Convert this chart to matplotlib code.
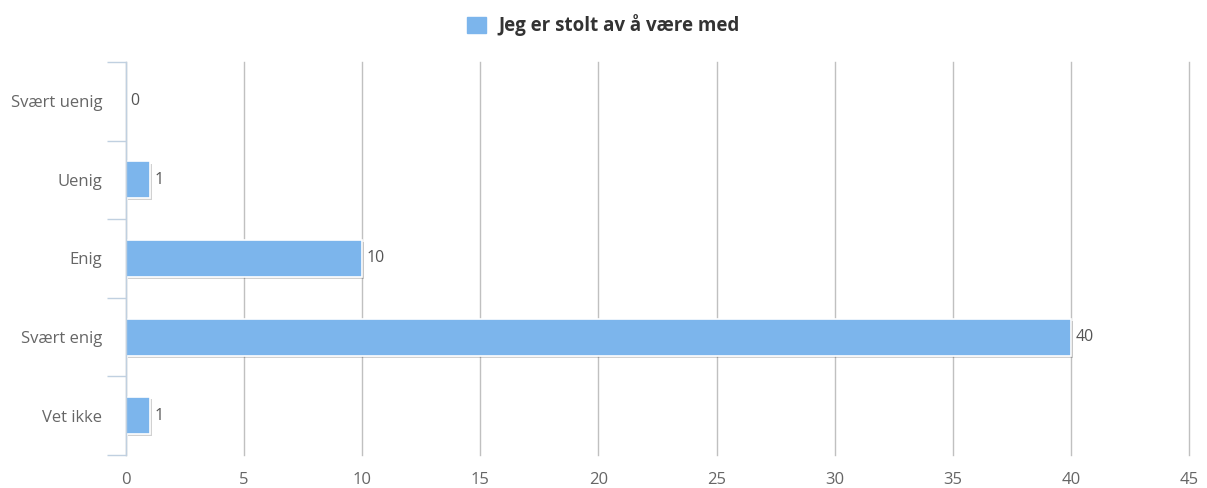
import matplotlib.pyplot as plt
import matplotlib.patheffects as pe
from matplotlib.patches import Patch
import numpy as np

categories = ["Svært uenig", "Uenig", "Enig", "Svært enig", "Vet ikke"]
values = [0, 1, 10, 40, 1]
series_name = "Jeg er stolt av å være med"
x_ticks = [0, 5, 10, 15, 20, 25, 30, 35, 40, 45]

BAR = "#7cb5ec"
AXIS = "#c0d0e0"
GRID = "#c0c0c0"

plt.rcParams["font.family"] = ["Open Sans", "DejaVu Sans"]

fig = plt.figure(figsize=(12.07, 4.88), dpi=100)
ax = fig.add_axes([126 / 1207, 33 / 488, 1063 / 1207, 393 / 488])

y = np.arange(len(categories))
bars = ax.barh(y, values, height=0.47, color=BAR, edgecolor="white", linewidth=1.2, zorder=3)
for b in bars:
    b.set_path_effects([pe.SimplePatchShadow(offset=(1.5, -1.5), shadow_rgbFace="#000000", alpha=0.18),
                        pe.Normal()])

for yi, v in zip(y, values):
    ax.text(v + 0.2, yi, str(v), va="center", ha="left", fontsize=11.5, color="#555555", zorder=4)

ax.set_xlim(0, 45)
ax.set_ylim(len(categories) - 0.5, -0.5)
ax.set_xticks(x_ticks)
ax.set_xticklabels([str(t) for t in x_ticks])
ax.set_yticks(y)
ax.set_yticklabels(categories)
ax.set_yticks(np.arange(len(categories) + 1) - 0.5, minor=True)

ax.tick_params(axis="x", length=0, pad=12, labelsize=12, labelcolor="#666666")
ax.tick_params(axis="y", which="major", length=0, pad=17, labelsize=12, labelcolor="#666666")
ax.tick_params(axis="y", which="minor", length=14, width=1, color=AXIS)

ax.grid(axis="x", color=GRID, linewidth=1, zorder=0)
for gl in ax.get_xgridlines():
    gl.set_clip_on(False)
ax.set_axisbelow(True)
for s in ["top", "right", "bottom"]:
    ax.spines[s].set_visible(False)
ax.spines["left"].set_color(AXIS)
ax.spines["left"].set_linewidth(1)
ax.spines["left"].set_zorder(5)

handle = Patch(facecolor=BAR, edgecolor=BAR)
fig.legend([handle], [series_name], loc="upper center", bbox_to_anchor=(0.5, 1.005),
           frameon=False, handlelength=1.0, handleheight=1.0, handletextpad=0.7,
           prop={"size": 13.5, "weight": "bold"}, labelcolor="#333333")

fig.savefig("out.png", dpi=100)
